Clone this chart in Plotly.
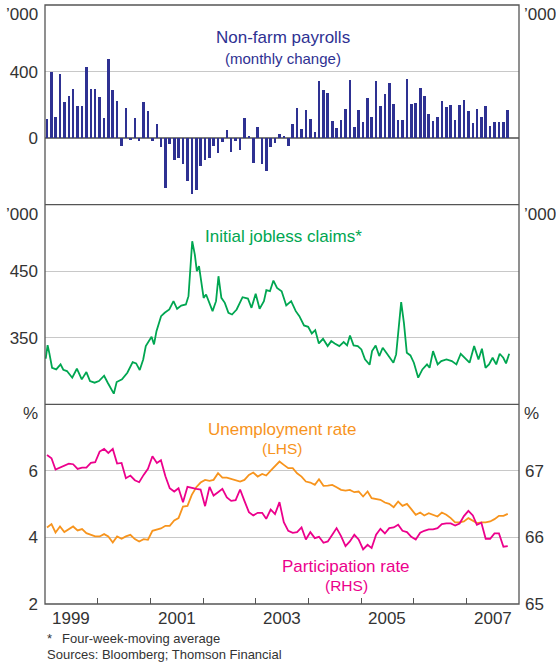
import pandas as pd
import plotly.graph_objects as go

# ---------------- data ----------------
months = pd.date_range("1999-01-01", "2007-10-01", freq="MS") + pd.Timedelta(days=14)

payrolls = [115, 396, 126, 383, 216, 256, 293, 191, 191, 425,
            293, 293, 245, 120, 478, 287, 221, -46, 180, -10,
            120, -16, 215, 162, -16, 84, -52, -298, -34, -130,
            -118, -154, -255, -334, -310, -166, -130, -118, -46, -88,
            -22, 49, -82, -16, -70, 120, 13, -148, 66, -154,
            -196, -51, -32, 23, 12, -46, 84, 179, 52, 167,
            113, 34, 341, 288, 269, 100, 58, 107, 173, 348,
            64, 167, 94, 239, 125, 342, 191, 263, 330, 203,
            107, 107, 354, 203, 209, 299, 251, 143, 100, 125,
            221, 185, 197, 107, 197, 227, 161, 88, 173, 125,
            191, 70, 94, 94, 94, 167]

claims_dates = [
    "1999-01-06", "1999-01-19", "1999-01-31", "1999-02-19", "1999-03-20", "1999-04-19", "1999-05-08",
    "1999-06-02", "1999-07-09", "1999-08-10", "1999-09-13", "1999-10-15", "1999-11-09", "1999-12-11",
    "2000-01-10", "2000-02-15", "2000-03-11", "2000-04-12", "2000-04-22", "2000-05-12", "2000-06-18",
    "2000-07-25", "2000-08-31", "2000-09-24", "2000-10-19", "2000-11-12", "2000-11-30", "2001-01-09",
    "2001-01-26", "2001-02-12", "2001-03-16", "2001-04-10", "2001-05-12", "2001-06-10", "2001-07-05",
    "2001-08-03", "2001-09-04", "2001-09-22", "2001-10-06", "2001-10-18", "2001-11-05", "2001-11-19",
    "2001-12-04", "2001-12-19", "2002-01-05", "2002-01-22", "2002-02-11", "2002-03-08", "2002-04-01",
    "2002-04-18", "2002-05-08", "2002-06-01", "2002-06-26", "2002-07-21", "2002-08-22", "2002-10-02",
    "2002-11-08", "2002-12-03", "2003-01-01", "2003-01-28", "2003-02-27", "2003-03-16", "2003-04-10",
    "2003-05-04", "2003-05-29", "2003-06-30", "2003-08-01", "2003-09-04", "2003-10-06", "2003-10-31",
    "2003-12-02", "2003-12-31", "2004-01-25", "2004-02-18", "2004-03-14", "2004-04-12", "2004-05-14",
    "2004-06-08", "2004-07-02", "2004-08-03", "2004-09-02", "2004-09-26", "2004-10-16", "2004-11-10",
    "2004-12-09", "2005-01-03", "2005-01-28", "2005-03-01", "2005-03-18", "2005-04-12", "2005-05-07",
    "2005-05-31", "2005-06-25", "2005-07-19", "2005-08-13", "2005-09-01", "2005-09-19", "2005-10-06",
    "2005-10-25", "2005-11-14", "2005-12-09", "2006-01-02", "2006-02-01", "2006-03-02", "2006-04-03",
    "2006-04-21", "2006-05-15", "2006-06-16", "2006-07-11", "2006-08-16", "2006-09-22", "2006-10-24",
    "2006-11-23", "2006-12-30", "2007-01-23", "2007-02-24", "2007-03-26", "2007-04-19", "2007-05-14",
    "2007-06-07", "2007-07-02", "2007-07-27", "2007-08-20", "2007-09-14", "2007-10-03", "2007-10-25"]

claims = [318.5, 339, 327, 305, 302.5, 310, 302, 300, 290, 303.5, 287.5, 298.5, 285, 282.5,
          285, 293, 282.5, 270, 266, 283.5, 287.5, 297.5, 313.5, 311.5, 301.5, 317.5, 337.5, 351.5,
          340, 360, 382.5, 387.5, 392.5, 405, 393.5, 398.5, 400, 412.5, 467.5, 495, 475, 450,
          457.5, 432.5, 410, 415, 405, 390, 405, 442.5, 410, 402.5, 387.5, 385, 392.5, 411,
          409, 395, 416, 393.5, 405, 421.5, 420, 436, 425, 420, 398.5, 405, 390, 382.5,
          368.5, 366.5, 356.5, 361.5, 341.5, 348.5, 337.5, 345, 341.5, 337.5, 343.5, 338.5, 353.5, 338.5,
          337.5, 332.5, 317.5, 309.5, 330, 338.5, 322.5, 335, 327.5, 320.5, 312.5, 325, 367.5, 403.5,
          372.5, 327.5, 323.5, 312.5, 290, 302.5, 310, 305, 330, 310, 315, 317.5, 315, 310,
          326, 317.5, 312.5, 337.5, 317.5, 333.5, 305, 310, 320, 310, 326, 320, 311.5, 326]

unemployment = [4.30, 4.40, 4.15, 4.33, 4.16, 4.25, 4.33, 4.21, 4.25, 4.13,
                4.08, 4.03, 4.03, 4.10, 4.03, 3.85, 4.03, 3.96, 4.03, 4.08,
                3.95, 3.88, 3.95, 3.93, 4.20, 4.23, 4.27, 4.35, 4.35, 4.51,
                4.58, 4.93, 4.95, 5.28, 5.51, 5.65, 5.73, 5.70, 5.73, 5.93,
                5.80, 5.80, 5.76, 5.70, 5.68, 5.73, 5.88, 5.95, 5.83, 5.91,
                5.86, 6.01, 6.13, 6.28, 6.18, 6.08, 6.08, 5.93, 5.83, 5.68,
                5.65, 5.58, 5.75, 5.55, 5.56, 5.58, 5.51, 5.43, 5.41, 5.43,
                5.36, 5.38, 5.23, 5.38, 5.18, 5.15, 5.13, 5.05, 5.01, 4.91,
                5.08, 4.95, 5.01, 4.85, 4.68, 4.75, 4.66, 4.73, 4.68, 4.63,
                4.75, 4.68, 4.58, 4.45, 4.45, 4.48, 4.58, 4.51, 4.43, 4.45,
                4.45, 4.48, 4.55, 4.65, 4.65, 4.71]

participation = [67.24, 67.19, 67.02, 67.05, 67.07, 67.11, 67.10, 67.03, 67.05, 67.05,
                 67.12, 67.13, 67.29, 67.33, 67.27, 67.33, 67.11, 67.12, 66.89, 66.93,
                 66.86, 66.83, 66.94, 67.03, 67.22, 67.12, 67.16, 66.92, 66.74, 66.69,
                 66.74, 66.53, 66.76, 66.74, 66.73, 66.72, 66.47, 66.76, 66.63, 66.68,
                 66.73, 66.60, 66.55, 66.56, 66.72, 66.55, 66.38, 66.33, 66.37, 66.37,
                 66.28, 66.42, 66.35, 66.53, 66.23, 66.10, 66.07, 66.08, 66.15, 65.97,
                 66.08, 65.99, 66.01, 65.92, 65.94, 66.04, 66.14, 66.02, 65.87, 65.94,
                 66.04, 65.97, 65.82, 65.89, 65.84, 66.04, 66.13, 66.06, 66.14, 66.15,
                 66.19, 66.10, 66.08, 66.01, 65.97, 66.07, 66.10, 66.12, 66.12, 66.14,
                 66.20, 66.21, 66.21, 66.18, 66.21, 66.32, 66.40, 66.33, 66.19, 66.22,
                 65.98, 65.98, 66.06, 66.06, 65.86, 65.87]

year_ticks = ["2000-01-01", "2001-01-01", "2002-01-01", "2003-01-01",
              "2004-01-01", "2005-01-01", "2006-01-01", "2007-01-01"]
year_labels = ["1999", "2001", "2003", "2005", "2007"]
year_label_pos = ["1999-07-02", "2001-07-02", "2003-07-02", "2005-07-02", "2007-07-02"]

# ---------------- styling ----------------
FONT = "Liberation Sans, Arial, sans-serif"
TXT = "#333333"
GRID = "#c8c8c8"
FRAME = "#555555"
BLUE = "#2E3192"
GREEN = "#00A651"
ORANGE = "#F7941D"
MAGENTA = "#EC008C"

fig = go.Figure()

fig.add_trace(go.Bar(x=months, y=payrolls, xaxis="x", yaxis="y",
                     marker=dict(color=BLUE, line=dict(width=0)),
                     width=18 * 86400000, showlegend=False))
fig.add_trace(go.Scatter(x=pd.to_datetime(claims_dates), y=claims, xaxis="x", yaxis="y2",
                         mode="lines", line=dict(color=GREEN, width=1.8), showlegend=False))
fig.add_trace(go.Scatter(x=months, y=unemployment, xaxis="x", yaxis="y3",
                         mode="lines", line=dict(color=ORANGE, width=1.8), showlegend=False))
fig.add_trace(go.Scatter(x=months, y=participation, xaxis="x", yaxis="y6",
                         mode="lines", line=dict(color=MAGENTA, width=1.8), showlegend=False))

d1, d2 = 1 / 3, 2 / 3
tickfont = dict(family=FONT, size=17, color=TXT)

def yax(domain, rng, tickvals, **kw):
    a = dict(domain=domain, range=rng, tickvals=tickvals, anchor="x",
             showgrid=True, gridcolor=GRID, gridwidth=1, zeroline=False,
             showline=False, ticks="", tickfont=tickfont, ticklabelstandoff=6, fixedrange=True)
    a.update(kw)
    return a

def yax_r(over, rng, tickvals):
    return dict(overlaying=over, side="right", range=rng, tickvals=tickvals, anchor="x",
                showgrid=False, zeroline=False, showline=False, ticks="",
                tickfont=tickfont, ticklabelstandoff=5, fixedrange=True)

fig.update_layout(
    width=556, height=667,
    margin=dict(l=45, r=37, t=5, b=63),
    paper_bgcolor="white", plot_bgcolor="white",
    bargap=0,
    hovermode=False,
    font=dict(family=FONT, color=TXT),
    xaxis=dict(range=["1999-01-01", "2008-01-01"], anchor="y3", type="date",
               tickvals=year_ticks, ticks="inside", ticklen=6, tickcolor=FRAME,
               tickwidth=1, showticklabels=False, showgrid=False, zeroline=False,
               showline=False, fixedrange=True),
    yaxis=yax([d2, 1], [-400, 800], [0, 400], zeroline=True,
              zerolinecolor="#7a7a7a", zerolinewidth=2),
    yaxis2=yax([d1, d2], [250, 550], [350, 450]),
    yaxis3=yax([0, d1], [2, 8], [2, 4, 6]),
    yaxis4=yax_r("y", [-400, 800], [0, 400]),
    yaxis5=yax_r("y2", [250, 550], [350, 450]),
    yaxis6=yax_r("y3", [65, 68], [65, 66, 67]),
)

# frame and panel separators
fig.add_shape(type="rect", xref="paper", yref="paper", x0=0, x1=1, y0=0, y1=1,
              line=dict(color=FRAME, width=1.3), layer="above")
for yy in (d1, d2):
    fig.add_shape(type="line", xref="paper", yref="paper", x0=0, x1=1, y0=yy, y1=yy,
                  line=dict(color=FRAME, width=1.3), layer="above")

# unit labels
for top, unit in ((1, "’000"), (d2, "’000"), (d1, "%")):
    fig.add_annotation(text=unit, xref="paper", yref="paper", x=0, y=top, xanchor="right",
                       yanchor="top", xshift=-5, yshift=2, showarrow=False,
                       font=dict(family=FONT, size=17, color=TXT))
    fig.add_annotation(text=unit, xref="paper", yref="paper", x=1, y=top, xanchor="left",
                       yanchor="top", xshift=3, yshift=2, showarrow=False,
                       font=dict(family=FONT, size=17, color=TXT))

# year labels
for lab, pos in zip(year_labels, year_label_pos):
    fig.add_annotation(text=lab, x=pos, xref="x", y=0, yref="paper", yanchor="top",
                       yshift=-3, showarrow=False, font=dict(family=FONT, size=17, color=TXT))

def note(text, x, y, size, color, xanchor="center"):
    fig.add_annotation(text=text, xref="paper", yref="paper", x=x, y=y, xanchor=xanchor,
                       yanchor="middle", showarrow=False,
                       font=dict(family=FONT, size=size, color=color))

note("Non-farm payrolls", 0.502, 0.945, 17, BLUE)
note("(monthly change)", 0.502, 0.9115, 15, BLUE)
note("Initial jobless claims*", 0.504, 0.614, 17, GREEN)
note("Unemployment rate", 0.499, 0.292, 17, ORANGE)
note("(LHS)", 0.501, 0.260, 15.5, ORANGE)
note("Participation rate", 0.636, 0.0634, 17, MAGENTA)
note("(RHS)", 0.636, 0.0317, 15.5, MAGENTA)

note("*", 0.0, -0.0584, 13, TXT, xanchor="left")
note("Four-week-moving average", 0.031, -0.0584, 13, TXT, xanchor="left")
note("Sources: Bloomberg; Thomson Financial", 0.0, -0.0851, 13, TXT, xanchor="left")

fig.write_html("out.html", config={"displayModeBar": False, "staticPlot": True},
               post_script="document.body.style.margin='0';document.body.style.padding='0';")
